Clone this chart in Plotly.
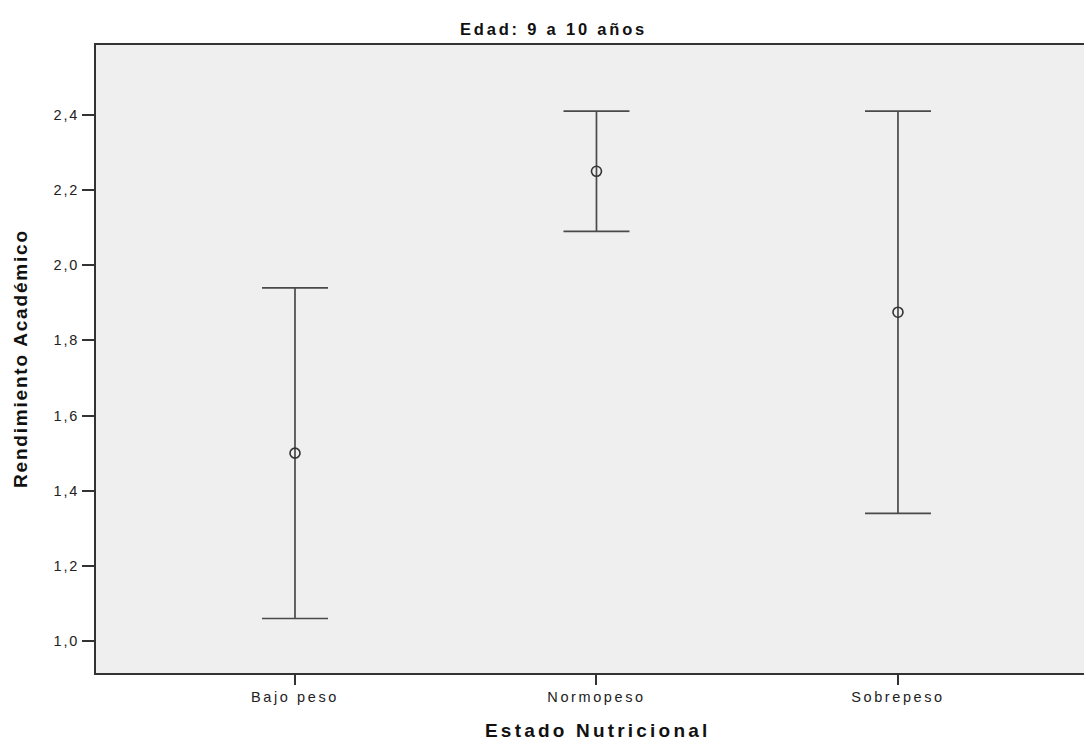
import plotly.graph_objects as go

categories = ["Bajo peso", "Normopeso", "Sobrepeso"]
means = [1.50, 2.25, 1.875]
upper = [1.94, 2.41, 2.41]
lower = [1.06, 2.09, 1.34]
y_ticks = [1.0, 1.2, 1.4, 1.6, 1.8, 2.0, 2.2, 2.4]
y_tick_labels = ["1,0", "1,2", "1,4", "1,6", "1,8", "2,0", "2,2", "2,4"]
title_text = "Edad: 9 a 10 años"
x_title = "Estado Nutricional"
y_title = "Rendimiento Académico"

err_plus = [u - m for u, m in zip(upper, means)]
err_minus = [m - l for m, l in zip(means, lower)]
xpos = list(range(len(categories)))


def spaced(t, ls):
    return f'<span style="letter-spacing:{ls}px">{t}</span>'


FONT = "Liberation Sans, Arial, sans-serif"
W, H = 1084, 740
ML, MR, MT, MB = 96, 0, 45, 67

fig = go.Figure()
fig.add_trace(go.Scatter(
    x=xpos, y=means, mode="markers",
    marker=dict(symbol="circle-open", size=10, color="#333333", line=dict(width=1.6, color="#333333")),
    error_y=dict(type="data", symmetric=False, array=err_plus, arrayminus=err_minus,
                 color="#4a4a4a", thickness=1.7, width=33),
    showlegend=False, hoverinfo="skip",
))

fig.update_layout(
    width=W, height=H,
    margin=dict(l=ML, r=MR, t=MT, b=MB),
    paper_bgcolor="white", plot_bgcolor="#efefef",
    font=dict(family=FONT, color="#222222"),
    xaxis=dict(
        range=[-0.66, 2.617], tickvals=xpos, ticktext=[spaced(c, 2.6) for c in categories],
        showgrid=False, zeroline=False, showline=True, linecolor="#333333", linewidth=2,
        mirror=True, ticks="outside", ticklen=10, tickwidth=1.5, tickcolor="#333333",
        tickfont=dict(size=14.5, color="#222222"),
    ),
    yaxis=dict(
        range=[0.915, 2.586], tickvals=y_ticks, ticktext=[spaced(t, 1.8) for t in y_tick_labels],
        showgrid=False, zeroline=False, showline=True, linecolor="#333333", linewidth=2,
        ticks="outside", ticklen=12, tickwidth=1.5, tickcolor="#333333",
        tickfont=dict(size=14.5, color="#222222"),
    ),
    annotations=[
        dict(text="<b>" + spaced(title_text, 2.8) + "</b>", xref="paper", yref="paper",
             x=(553 - ML) / (W - ML), y=1, yshift=16, xanchor="center", yanchor="middle",
             showarrow=False, font=dict(size=16.5, color="#111111", family=FONT)),
        dict(text="<b>" + spaced(x_title, 3.2) + "</b>", xref="paper", yref="paper",
             x=(597 - ML) / (W - ML), y=0, yshift=-57, xanchor="center", yanchor="middle",
             showarrow=False, font=dict(size=19, color="#111111", family=FONT)),
        dict(text="<b>" + spaced(y_title, 1.8) + "</b>", xref="paper", yref="paper",
             x=0, xshift=-76, y=0.5, xanchor="center", yanchor="middle", textangle=-90,
             showarrow=False, font=dict(size=19, color="#111111", family=FONT)),
    ],
)

fig.write_html("out.html", config={"displayModeBar": False},
               post_script="document.body.style.margin='0';document.body.style.overflow='hidden';")
